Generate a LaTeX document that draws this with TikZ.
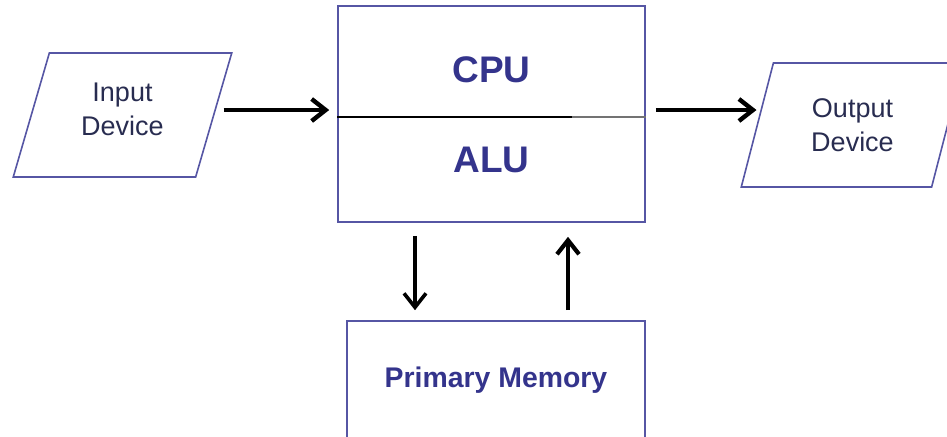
\documentclass[tikz,border=0pt]{standalone}
\usepackage{fontspec}
\setmainfont{Liberation Sans}
\usetikzlibrary{shapes.geometric,arrows.meta}
\definecolor{boxblue}{RGB}{86,86,164}
\definecolor{labblue}{RGB}{52,52,140}
\definecolor{labgrey}{RGB}{40,44,80}

\begin{document}
\begin{tikzpicture}[x=0.5pt,y=-0.5pt,
  iobox/.style={trapezium, trapezium left angle=72.5, trapezium right angle=107.5,
    trapezium stretches=true, draw=boxblue, line width=0.8pt, inner sep=0pt,
    minimum height=62pt, align=center, text=labgrey,
    font=\fontsize{13.5}{17}\selectfont},
  unit/.style={rectangle, draw=boxblue, line width=0.8pt, inner sep=0pt},
  unitlabel/.style={text=labblue, font=\bfseries\fontsize{18.5}{22}\selectfont},
  bigarr/.style={-{Straight Barb[length=7pt,width=11pt]}, line width=2.2pt},
  smallarr/.style={-{Straight Barb[length=7pt,width=11pt]}, line width=1.8pt}]
  \clip (0,0) rectangle (947,436);

  % input, processor and output
  \node [iobox, minimum width=109.5pt, text depth=6pt](inp) at (122.5,115) {Input\\Device};
  \node [unit, minimum width=153.5pt, minimum height=108pt](cpu) at (491.5,114) {};
  \node [iobox, minimum width=111.5pt](out) at (852.5,125) {Output\\Device};
  \node [unit, minimum width=149pt, minimum height=59.5pt, text=labblue,
    font=\bfseries\fontsize{14.2}{17}\selectfont](mem) at (496,380.5) {Primary Memory};

  \node [unitlabel](cpulab) at (491.5,70) {CPU};
  \node [unitlabel](alulab) at (491.5,160) {ALU};
  \draw [line width=0.7pt] ([yshift=-1.5pt]cpu.west) -- ([yshift=-1.5pt,xshift=-37pt]cpu.east);
  \draw [line width=0.7pt, black!55] ([yshift=-1.5pt,xshift=-37pt]cpu.east) -- ([yshift=-1.5pt]cpu.east);

  % data paths
  \draw [bigarr, shorten <=4.5pt, shorten >=4pt] ([yshift=2pt]inp.east |- cpu.west) -- ([yshift=2pt]cpu.west);
  \draw [bigarr, shorten <=5pt] ([yshift=2pt]cpu.east) -- ([yshift=2pt]cpu.east -| out.west);
  \draw [smallarr, shorten <=6.5pt, shorten >=5pt]
    ([xshift=-38.25pt]cpu.south) -- ([xshift=-38.25pt]cpu.south |- mem.north);
  \draw [smallarr, line width=2.1pt, shorten <=5pt, shorten >=7pt]
    ([xshift=38.25pt]cpu.south |- mem.north) -- ([xshift=38.25pt]cpu.south);
\end{tikzpicture}
\end{document}
